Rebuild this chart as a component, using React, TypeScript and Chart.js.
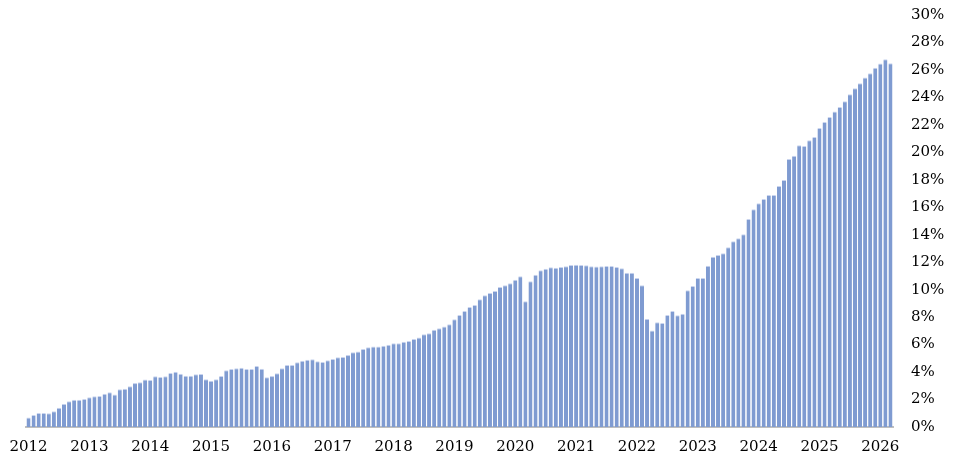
import React, { useEffect, useRef } from "react";
import { Chart, registerables } from "chart.js";

Chart.register(...registerables);

const years = [2012, 2013, 2014, 2015, 2016, 2017, 2018, 2019, 2020, 2021, 2022, 2023, 2024, 2025, 2026];

const v2012 = [0.70, 0.87, 1.02, 1.02, 1.00, 1.14, 1.41, 1.68, 1.87, 1.99, 1.99, 2.04];
const v2013 = [2.16, 2.24, 2.26, 2.43, 2.53, 2.36, 2.74, 2.79, 2.96, 3.20, 3.25, 3.45];
const v2014 = [3.42, 3.69, 3.64, 3.69, 3.93, 4.03, 3.88, 3.74, 3.74, 3.84, 3.86, 3.47];
const v2015 = [3.37, 3.47, 3.71, 4.13, 4.22, 4.27, 4.32, 4.22, 4.22, 4.44, 4.25, 3.62];
const v2016 = [3.71, 3.91, 4.27, 4.52, 4.52, 4.71, 4.83, 4.90, 4.93, 4.78, 4.73, 4.86];
const v2017 = [4.95, 5.07, 5.09, 5.24, 5.44, 5.49, 5.68, 5.80, 5.87, 5.87, 5.92, 5.99];
const v2018 = [6.09, 6.09, 6.21, 6.26, 6.41, 6.51, 6.75, 6.82, 7.09, 7.19, 7.31, 7.48];
const v2019 = [7.85, 8.16, 8.45, 8.74, 8.89, 9.30, 9.59, 9.76, 9.91, 10.20, 10.32, 10.46];
const v2020 = [10.73, 10.97, 9.15, 10.61, 11.09, 11.41, 11.53, 11.63, 11.60, 11.65, 11.70, 11.80];
const v2021 = [11.82, 11.80, 11.77, 11.70, 11.68, 11.70, 11.73, 11.73, 11.65, 11.56, 11.24, 11.24];
const v2022 = [10.85, 10.32, 7.87, 7.02, 7.62, 7.57, 8.16, 8.45, 8.13, 8.25, 9.95, 10.27];
const v2023 = [10.85, 10.85, 11.75, 12.40, 12.53, 12.65, 13.09, 13.52, 13.74, 14.03, 15.15, 15.85];
const v2024 = [16.30, 16.60, 16.90, 16.90, 17.55, 17.99, 19.52, 19.76, 20.51, 20.47, 20.88, 21.12];
const v2025 = [21.78, 22.21, 22.58, 22.97, 23.31, 23.72, 24.23, 24.67, 25.03, 25.44, 25.76, 26.15];
const v2026 = [26.46, 26.78, 26.49];

const yearValues = [v2012, v2013, v2014, v2015, v2016, v2017, v2018, v2019, v2020, v2021, v2022, v2023, v2024, v2025, v2026];

const yTicks = [0, 2, 4, 6, 8, 10, 12, 14, 16, 18, 20, 22, 24, 26, 28, 30];

const categories: string[] = [];
const values: number[] = [];
yearValues.forEach((arr, yi) => {
  arr.forEach((v, mi) => {
    categories.push(`${years[yi]}-${String(mi + 1).padStart(2, "0")}`);
    values.push(v);
  });
});

const FONT = { family: "'DejaVu Serif', serif", size: 15 };

export default function App() {
  const ref = useRef<HTMLCanvasElement>(null);
  useEffect(() => {
    if (!ref.current) return;
    const chart = new Chart(ref.current, {
      type: "bar",
      data: {
        labels: categories,
        datasets: [
          {
            data: values,
            backgroundColor: "#7f9bd1",
            borderColor: "#c9d4ee",
            borderWidth: { top: 1, left: 0, right: 0, bottom: 0 },
            borderSkipped: false,
            barPercentage: 0.8,
            categoryPercentage: 1,
          },
        ],
      },
      options: {
        animation: false,
        responsive: false,
        maintainAspectRatio: false,
        layout: { padding: { left: 26, right: 0, top: 15, bottom: 0 } },
        plugins: { legend: { display: false }, tooltip: { enabled: false } },
        scales: {
          x: {
            grid: { display: false, drawTicks: false },
            border: { display: true, color: "#bfbfbf", width: 2 },
            afterFit: (axis: any) => {
              axis.height = 34;
              axis.paddingLeft = 0;
              axis.paddingRight = 0;
            },
            ticks: {
              autoSkip: false,
              maxRotation: 0,
              minRotation: 0,
              padding: 11,
              color: "#000",
              font: FONT,
              callback: (_v: any, i: number) => {
                const c = categories[i];
                return c.endsWith("-01") ? c.slice(0, 4) : "";
              },
            },
          },
          y: {
            position: "right",
            min: 0,
            max: 30,
            grid: { display: false, drawTicks: false },
            border: { display: false },
            afterBuildTicks: (axis: any) => {
              axis.ticks = yTicks.map((v) => ({ value: v }));
            },
            afterFit: (axis: any) => {
              axis.width = 64;
              axis.paddingTop = 0;
              axis.paddingBottom = 0;
            },
            ticks: {
              padding: 18,
              color: "#000",
              font: FONT,
              callback: (v: any) => `${v}%`,
            },
          },
        },
      },
    });
    return () => chart.destroy();
  }, []);
  return (
    <div style={{ position: "fixed", left: 0, top: 0, width: 957, height: 461, background: "#fff" }}>
      <canvas ref={ref} width={957} height={461} style={{ width: 957, height: 461 }} />
    </div>
  );
}
